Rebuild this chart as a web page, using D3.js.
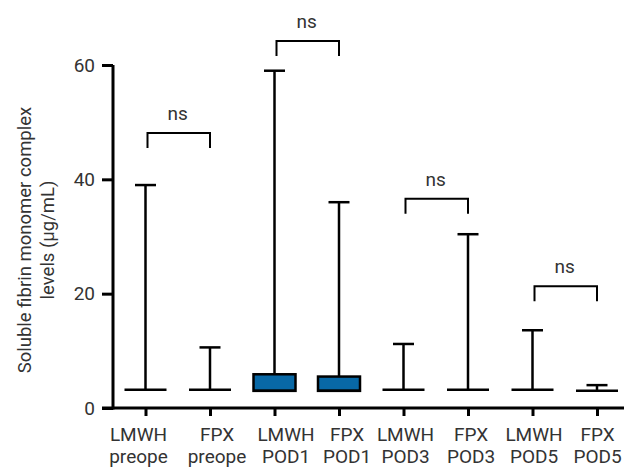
<!DOCTYPE html>
<html>
<head>
<meta charset="utf-8">
<script src="https://cdn.jsdelivr.net/npm/d3@7"></script>
<style>
  body { margin: 0; background: #fff; }
  text { font-family: Roboto, "Noto Sans", sans-serif; font-weight: 400; fill: #333; }
</style>
</head>
<body>
<svg id="chart" width="626" height="467"></svg>
<script>
// groups (two-line labels)
var groups = ["LMWH preope", "FPX preope", "LMWH POD1", "FPX POD1", "LMWH POD3", "FPX POD3", "LMWH POD5", "FPX POD5"];
// five-number summaries
var minVals = [3.2, 3.2, 3.0, 3.0, 3.2, 3.2, 3.2, 3.0];
var q1Vals = [3.2, 3.2, 3.0, 3.0, 3.2, 3.2, 3.2, 3.0];
var medVals = [3.2, 3.2, 3.0, 3.0, 3.2, 3.2, 3.2, 3.0];
var q3Vals = [3.2, 3.2, 5.9, 5.5, 3.2, 3.2, 3.2, 3.0];
var maxVals = [39, 10.6, 59, 36, 11.2, 30.4, 13.6, 4.0];
// significance brackets: [left group, right group, height]
var brackets = [[0, 1, 48.1], [2, 3, 64.2], [4, 5, 36.6], [6, 7, 21.3]];
var yTicks = [0, 20, 40, 60];

var svg = d3.select("#chart");
var x = d3.scalePoint().domain(groups).range([145.5, 597]);
var y = d3.scaleLinear().domain([0, 60]).range([408, 65]);
var boxW = 42, capW = 21;
// labels sit a little off their ticks in the left half of the reference
var labelShift = [-7.5, 6.5, 11, 7.5, 1.5, 2.5, 1, 0];

// y axis
var yAxis = d3.axisLeft(y).tickValues(yTicks).tickSize(11).tickPadding(7);
var gy = svg.append("g").attr("transform", "translate(113,0)").call(yAxis);
gy.select(".domain").attr("stroke-width", 3).attr("d", "M0," + y(60) + "V" + (y(0) + 1.5));
gy.selectAll(".tick line").attr("stroke-width", 3);
gy.selectAll(".tick text").style("font-size", "19px").attr("fill", "#333")
  .style("font-family", "Roboto, sans-serif").style("font-weight", 400);

// x axis
var xAxis = d3.axisBottom(x).tickSize(8).tickFormat("");
var gx = svg.append("g").attr("transform", "translate(0,408)").call(xAxis);
gx.select(".domain").attr("stroke-width", 3).attr("d", "M102,0H624");
gx.selectAll(".tick line").attr("stroke-width", 3);
gx.selectAll(".tick").each(function (d, i) {
  var parts = d.split(" ");
  var t = d3.select(this).append("text").attr("text-anchor", "middle").style("font-size", "19px").attr("fill", "#333");
  t.append("tspan").attr("x", labelShift[i]).attr("y", 32.5).text(parts[0]);
  t.append("tspan").attr("x", labelShift[i]).attr("y", 54.5).text(parts[1]);
});

// y axis title
var yt = svg.append("text").attr("transform", "translate(31,240) rotate(-90)")
  .attr("text-anchor", "middle").style("font-size", "18.5px");
yt.append("tspan").attr("x", 0).attr("y", 0).text("Soluble fibrin monomer complex");
yt.append("tspan").attr("x", 0).attr("y", 23).text("levels (\u00b5g/mL)");

// boxes and whiskers
var data = groups.map(function (g, i) {
  return { g: g, min: minVals[i], q1: q1Vals[i], med: medVals[i], q3: q3Vals[i], max: maxVals[i] };
});
var bx = svg.append("g").selectAll("g").data(data).join("g")
  .attr("transform", function (d) { return "translate(" + x(d.g) + ",0)"; });
bx.append("line").attr("x1", 0).attr("x2", 0)
  .attr("y1", function (d) { return y(d.q3); }).attr("y2", function (d) { return y(d.max); })
  .attr("stroke", "#000").attr("stroke-width", 2.5);
bx.append("line").attr("x1", -capW / 2).attr("x2", capW / 2)
  .attr("y1", function (d) { return y(d.max); }).attr("y2", function (d) { return y(d.max); })
  .attr("stroke", "#000").attr("stroke-width", 2.5);
bx.append("line").attr("x1", 0).attr("x2", 0)
  .attr("y1", function (d) { return y(d.q1); }).attr("y2", function (d) { return y(d.min); })
  .attr("stroke", "#000").attr("stroke-width", 2.5);
bx.append("rect").attr("x", -boxW / 2).attr("width", boxW)
  .attr("y", function (d) { return y(d.q3); })
  .attr("height", function (d) { return y(d.q1) - y(d.q3); })
  .attr("fill", "#0868a6").attr("stroke", "#000").attr("stroke-width", 2.5);
bx.append("line").attr("x1", -boxW / 2).attr("x2", boxW / 2)
  .attr("y1", function (d) { return y(d.med); }).attr("y2", function (d) { return y(d.med); })
  .attr("stroke", "#000").attr("stroke-width", 2.5);

// significance brackets
var bg = svg.append("g").selectAll("g").data(brackets).join("g");
bg.append("path").attr("fill", "none").attr("stroke", "#000").attr("stroke-width", 2)
  .attr("d", function (b) {
    var x1 = x(groups[b[0]]) + 2, x2 = x(groups[b[1]]), yy = y(b[2]);
    return "M" + x1 + "," + (yy + 15) + "V" + yy + "H" + x2 + "V" + (yy + 15);
  });
bg.append("text").attr("text-anchor", "middle").style("font-size", "19px")
  .attr("x", function (b) { return (x(groups[b[0]]) + x(groups[b[1]])) / 2; })
  .attr("y", function (b) { return y(b[2]) - 13; })
  .text("ns");
</script>
</body>
</html>
